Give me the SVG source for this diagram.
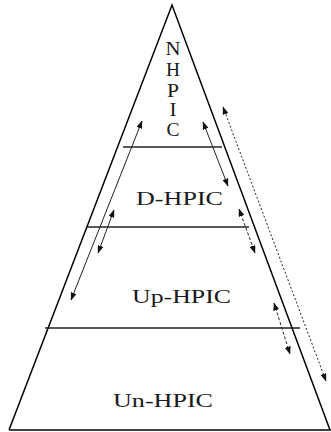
<svg xmlns="http://www.w3.org/2000/svg" width="331" height="432" viewBox="0 0 331 432">
<style>
.edge{fill:none;stroke:#000;stroke-width:1.5;stroke-linejoin:miter}
.div{stroke:#222;stroke-width:1.3}
.lbl{font-family:"Liberation Serif","Times New Roman",serif;font-size:19px;fill:#1a1a1a}
.arr{fill:none;stroke:#222;stroke-width:1}
.dash{stroke-dasharray:3 2}
.dot{stroke-dasharray:2 2}
</style>
<defs>
<marker id="ah" viewBox="0 0 8 6" refX="7.5" refY="3" markerWidth="8" markerHeight="6" markerUnits="userSpaceOnUse" orient="auto-start-reverse">
<path d="M0,0 L8,3 L0,6 z" fill="#111"/>
</marker>
</defs>
<g id="pyramid">
<path class="edge" d="M9,430 L172,5 L330,430"/>
<line x1="9" y1="430" x2="331" y2="430" stroke="#000" stroke-width="1.5"/>
</g>
<g id="nhpic">
<text class="lbl" text-anchor="middle" x="173" y="55" textLength="15" lengthAdjust="spacingAndGlyphs">N</text>
<text class="lbl" text-anchor="middle" x="173" y="76" textLength="14" lengthAdjust="spacingAndGlyphs">H</text>
<text class="lbl" text-anchor="middle" x="173" y="97" textLength="12" lengthAdjust="spacingAndGlyphs">P</text>
<text class="lbl" text-anchor="middle" x="173" y="116" textLength="7" lengthAdjust="spacingAndGlyphs">I</text>
<text class="lbl" text-anchor="middle" x="173" y="136" textLength="13" lengthAdjust="spacingAndGlyphs">C</text>
</g>
<g id="d-hpic">
<line class="div" x1="123" y1="147" x2="222" y2="147"/>
<text class="lbl" x="136" y="205" textLength="87" lengthAdjust="spacingAndGlyphs">D-HPIC</text>
</g>
<g id="up-hpic">
<line class="div" x1="87" y1="227" x2="249" y2="227"/>
<text class="lbl" x="132" y="303" textLength="99" lengthAdjust="spacingAndGlyphs">Up-HPIC</text>
</g>
<g id="un-hpic">
<line class="div" x1="45" y1="328" x2="300" y2="328"/>
<text class="lbl" x="113" y="407" textLength="100" lengthAdjust="spacingAndGlyphs">Un-HPIC</text>
</g>
<g id="connectors">
<line class="arr" x1="142" y1="121" x2="71" y2="300" marker-start="url(#ah)" marker-end="url(#ah)"/>
<line class="arr" x1="114" y1="210" x2="98" y2="253" marker-start="url(#ah)" marker-end="url(#ah)"/>
<line class="arr" x1="203" y1="122" x2="228" y2="186" marker-start="url(#ah)" marker-end="url(#ah)"/>
<line class="arr dash" x1="239" y1="209" x2="255" y2="253" marker-start="url(#ah)" marker-end="url(#ah)"/>
<line class="arr dash" x1="274" y1="303" x2="290" y2="354" marker-start="url(#ah)" marker-end="url(#ah)"/>
<line class="arr dot" x1="223" y1="107" x2="326" y2="381" marker-start="url(#ah)" marker-end="url(#ah)"/>
</g>
</svg>
